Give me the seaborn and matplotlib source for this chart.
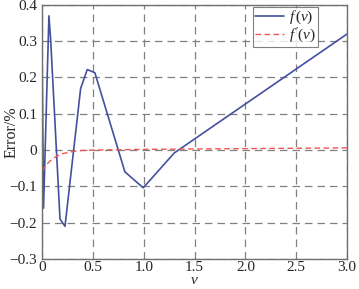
import matplotlib
matplotlib.use('Agg')
import matplotlib.pyplot as plt
import seaborn as sns
import pandas as pd

# blue curve f(v)
v_f = [0.0, 0.015, 0.068, 0.085, 0.177, 0.226, 0.38, 0.445, 0.52, 0.815, 0.995, 1.3, 3.0]
err_f = [0.28, -0.16, 0.37, 0.305, -0.19, -0.21, 0.17, 0.222, 0.213, -0.06, -0.104, -0.008, 0.32]

# red dashed curve f'(v)
v_d = [0.0, 0.05, 0.1, 0.15, 0.2, 0.3, 0.4, 0.5, 0.75, 1.0, 1.5, 2.0, 2.5, 3.0]
err_d = [-0.058, -0.038, -0.025, -0.016, -0.010, -0.004, -0.001, 0.0, 0.001, 0.002, 0.003, 0.004, 0.005, 0.006]

x_ticks = [0, 0.5, 1.0, 1.5, 2.0, 2.5, 3.0]
x_labels = ["0", "0.5", "1.0", "1.5", "2.0", "2.5", "3.0"]
y_ticks = [-0.3, -0.2, -0.1, 0, 0.1, 0.2, 0.3, 0.4]
y_labels = ["\u22120.3", "\u22120.2", "\u22120.1", "0", "0.1", "0.2", "0.3", "0.4"]

sns.set_style("white")
plt.rcParams['font.family'] = ['Liberation Serif', 'DejaVu Serif']
plt.rcParams['mathtext.fontset'] = 'custom'
plt.rcParams['mathtext.it'] = 'Liberation Serif:italic'
plt.rcParams['mathtext.rm'] = 'Liberation Serif'

fig = plt.figure(figsize=(3.59, 2.89), dpi=100)
ax = fig.add_axes([0.117, 0.104, 0.850, 0.879])

df_f = pd.DataFrame({"v": v_f, "err": err_f})
df_d = pd.DataFrame({"v": v_d, "err": err_d})
sns.lineplot(data=df_f, x="v", y="err", ax=ax, color="#44509e", lw=1.2,
             label=r"$f\,(v)$", sort=False)
sns.lineplot(data=df_d, x="v", y="err", ax=ax, color="#ee5555", lw=1.0,
             linestyle=(0, (4, 2.5)), label=r"$f\,'(v)$", sort=False)

ax.set_xlim(0, 3)
ax.set_ylim(-0.3, 0.4)
ax.set_xticks(x_ticks)
ax.set_xticklabels(x_labels)
ax.set_yticks(y_ticks)
ax.set_yticklabels(y_labels)
ax.tick_params(labelsize=11, length=0)
ax.tick_params(axis="x", pad=1.5)
ax.tick_params(axis="y", pad=3.5)
ax.grid(True, color="#808080", linestyle=(0, (6, 4)), lw=0.9)
ax.set_axisbelow(True)
for s in ax.spines.values():
    s.set_color("#707070")
    s.set_linewidth(1.0)

ax.set_xlabel("v", fontsize=11, style="italic")
ax.xaxis.set_label_coords(0.5, -0.112)
ax.xaxis.label.set_va("bottom")
ax.set_ylabel("Error/%", fontsize=11.5)
ax.yaxis.set_label_coords(-0.075, 0.5)

leg = ax.legend(loc="upper right", bbox_to_anchor=(0.905, 0.993), fontsize=11,
                frameon=True, fancybox=False, borderpad=0.15, handlelength=1.9,
                handletextpad=0.3, labelspacing=0.0, borderaxespad=0)
leg.get_frame().set_edgecolor("#606060")
leg.get_frame().set_linewidth(0.8)

fig.savefig("out.png", dpi=100)
